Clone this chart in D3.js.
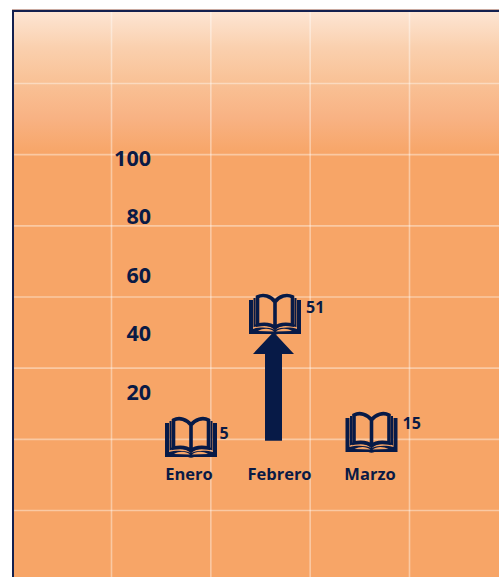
<!DOCTYPE html>
<html><head><meta charset="utf-8">
<script src="https://cdnjs.cloudflare.com/ajax/libs/d3/7.8.5/d3.min.js"></script>
<style>html,body{margin:0;padding:0;background:#fff;overflow:hidden}svg{display:block}text{font-family:"Open Sans",sans-serif;font-weight:700;fill:#0a1a45}</style>
</head><body><svg id="c" width="499" height="577"></svg>
<script>
const categories = ["Enero","Febrero","Marzo"];
const values = [5,51,15];
const iconLevels = [4.6,46.7,6.3];
const labelLevels = [3.8,47,7.5];
const axisTicks = [20,40,60,80,100];
const gridRows = [0,1,2,3,4,5,6];
const gridCols = [0,1,2,3];
const iconCols = [191,275,371.5];
const arrowFrom = 3.3;
const arrowTo = 31.3;

const navy="#071a47", W=499, H=577;
const svg=d3.select("#c");
const yS=d3.scaleLinear().domain([0,100]).range([450.5,158]);
const xS=d3.scalePoint().domain(categories).range([189,370]);
const gy=d3.scaleLinear().domain([0,6]).range([83.5,510.5]);
const gx=d3.scaleLinear().domain([0,3]).range([111.5,409.5]);

const grad=svg.append("defs").append("linearGradient").attr("id","bg").attr("x1",0).attr("x2",0).attr("y1",0).attr("y2",1);
[[0,"#fde5d3"],[.25,"#fad0ae"],[.5,"#f9c195"],[.75,"#f8b283"],[1,"#f7a567"]].forEach(s=>grad.append("stop").attr("offset",s[0]).attr("stop-color",s[1]));
svg.append("rect").attr("x",12).attr("y",9).attr("width",W).attr("height",1).attr("fill","#c9a9a0");
svg.append("rect").attr("x",12).attr("y",10).attr("width",W).attr("height",H).attr("fill","#f7a567");
svg.append("rect").attr("x",13).attr("y",12).attr("width",W).attr("height",142).attr("fill","url(#bg)");
svg.append("rect").attr("x",12).attr("y",10).attr("width",W).attr("height",2).attr("fill","#13204f");
svg.append("rect").attr("x",12).attr("y",10).attr("width",2).attr("height",H).attr("fill","#13204f");

svg.append("g").selectAll("line").data(gridRows).join("line")
 .attr("x1",14).attr("x2",W).attr("y1",d=>gy(d)).attr("y2",d=>gy(d))
 .attr("stroke","#fff").attr("stroke-opacity",.4).attr("stroke-width",1.6);
svg.append("g").selectAll("line").data(gridCols).join("line")
 .attr("x1",d=>gx(d)).attr("x2",d=>gx(d)).attr("y1",12).attr("y2",H)
 .attr("stroke","#fff").attr("stroke-opacity",.4).attr("stroke-width",1.6);

svg.append("g").selectAll("text").data(axisTicks).join("text")
 .attr("x",151).attr("y",d=>yS(d)+7.5).attr("text-anchor","end").attr("font-size",21.5).text(d=>d);

const book=(s)=>{
  const b=s.append("g").attr("transform","translate(-26,-20)");
  b.append("path").attr("d","M0,6H4V35C10,33 20,33 26,36C32,33 42,33 48,35V6H52V40H29C27,41 25,41 23,40H0Z").attr("fill",navy);
  b.append("path").attr("d","M5.5,4V32C12,30 21,30 26,34C31,30 40,30 46.5,32V4").attr("fill","none").attr("stroke",navy).attr("stroke-width",2);
  b.append("path").attr("d","M26,34V8C22,2 14,0 8.5,3V31C14,30 22,30 26,34C30,30 38,30 43.5,31V3C38,0 30,2 26,8").attr("fill","none").attr("stroke",navy).attr("stroke-width",3.6);
  b.append("path").attr("d","M9,37C14,34 21,34 25,37.5ZM27,37.5C31,34 38,34 43,37Z").attr("fill","#f7a567");
};
categories.forEach((c,i)=>{
  const n=svg.append("g").attr("transform",`translate(${iconCols[i]},${yS(iconLevels[i])})`);
  book(n);
  svg.append("text").attr("x",iconCols[i]+(i===2?31:(i===1?31:28.5))).attr("y",yS(labelLevels[i])).attr("font-size",16).text(values[i]);
  svg.append("text").attr("x",xS(c)).attr("y",480).attr("text-anchor","middle").attr("font-size",16.5).text(c);
});

const ax=273.5, p=d3.path(), tipY=yS(arrowTo)-27, hb=yS(arrowTo)-5;
p.moveTo(ax-8.5,yS(arrowFrom));p.lineTo(ax-8.5,hb);p.lineTo(ax-20.5,hb);p.lineTo(ax,tipY);p.lineTo(ax+20.5,hb);p.lineTo(ax+8.5,hb);p.lineTo(ax+8.5,yS(arrowFrom));p.closePath();
svg.append("path").attr("d",p.toString()).attr("fill",navy);
</script></body></html>
